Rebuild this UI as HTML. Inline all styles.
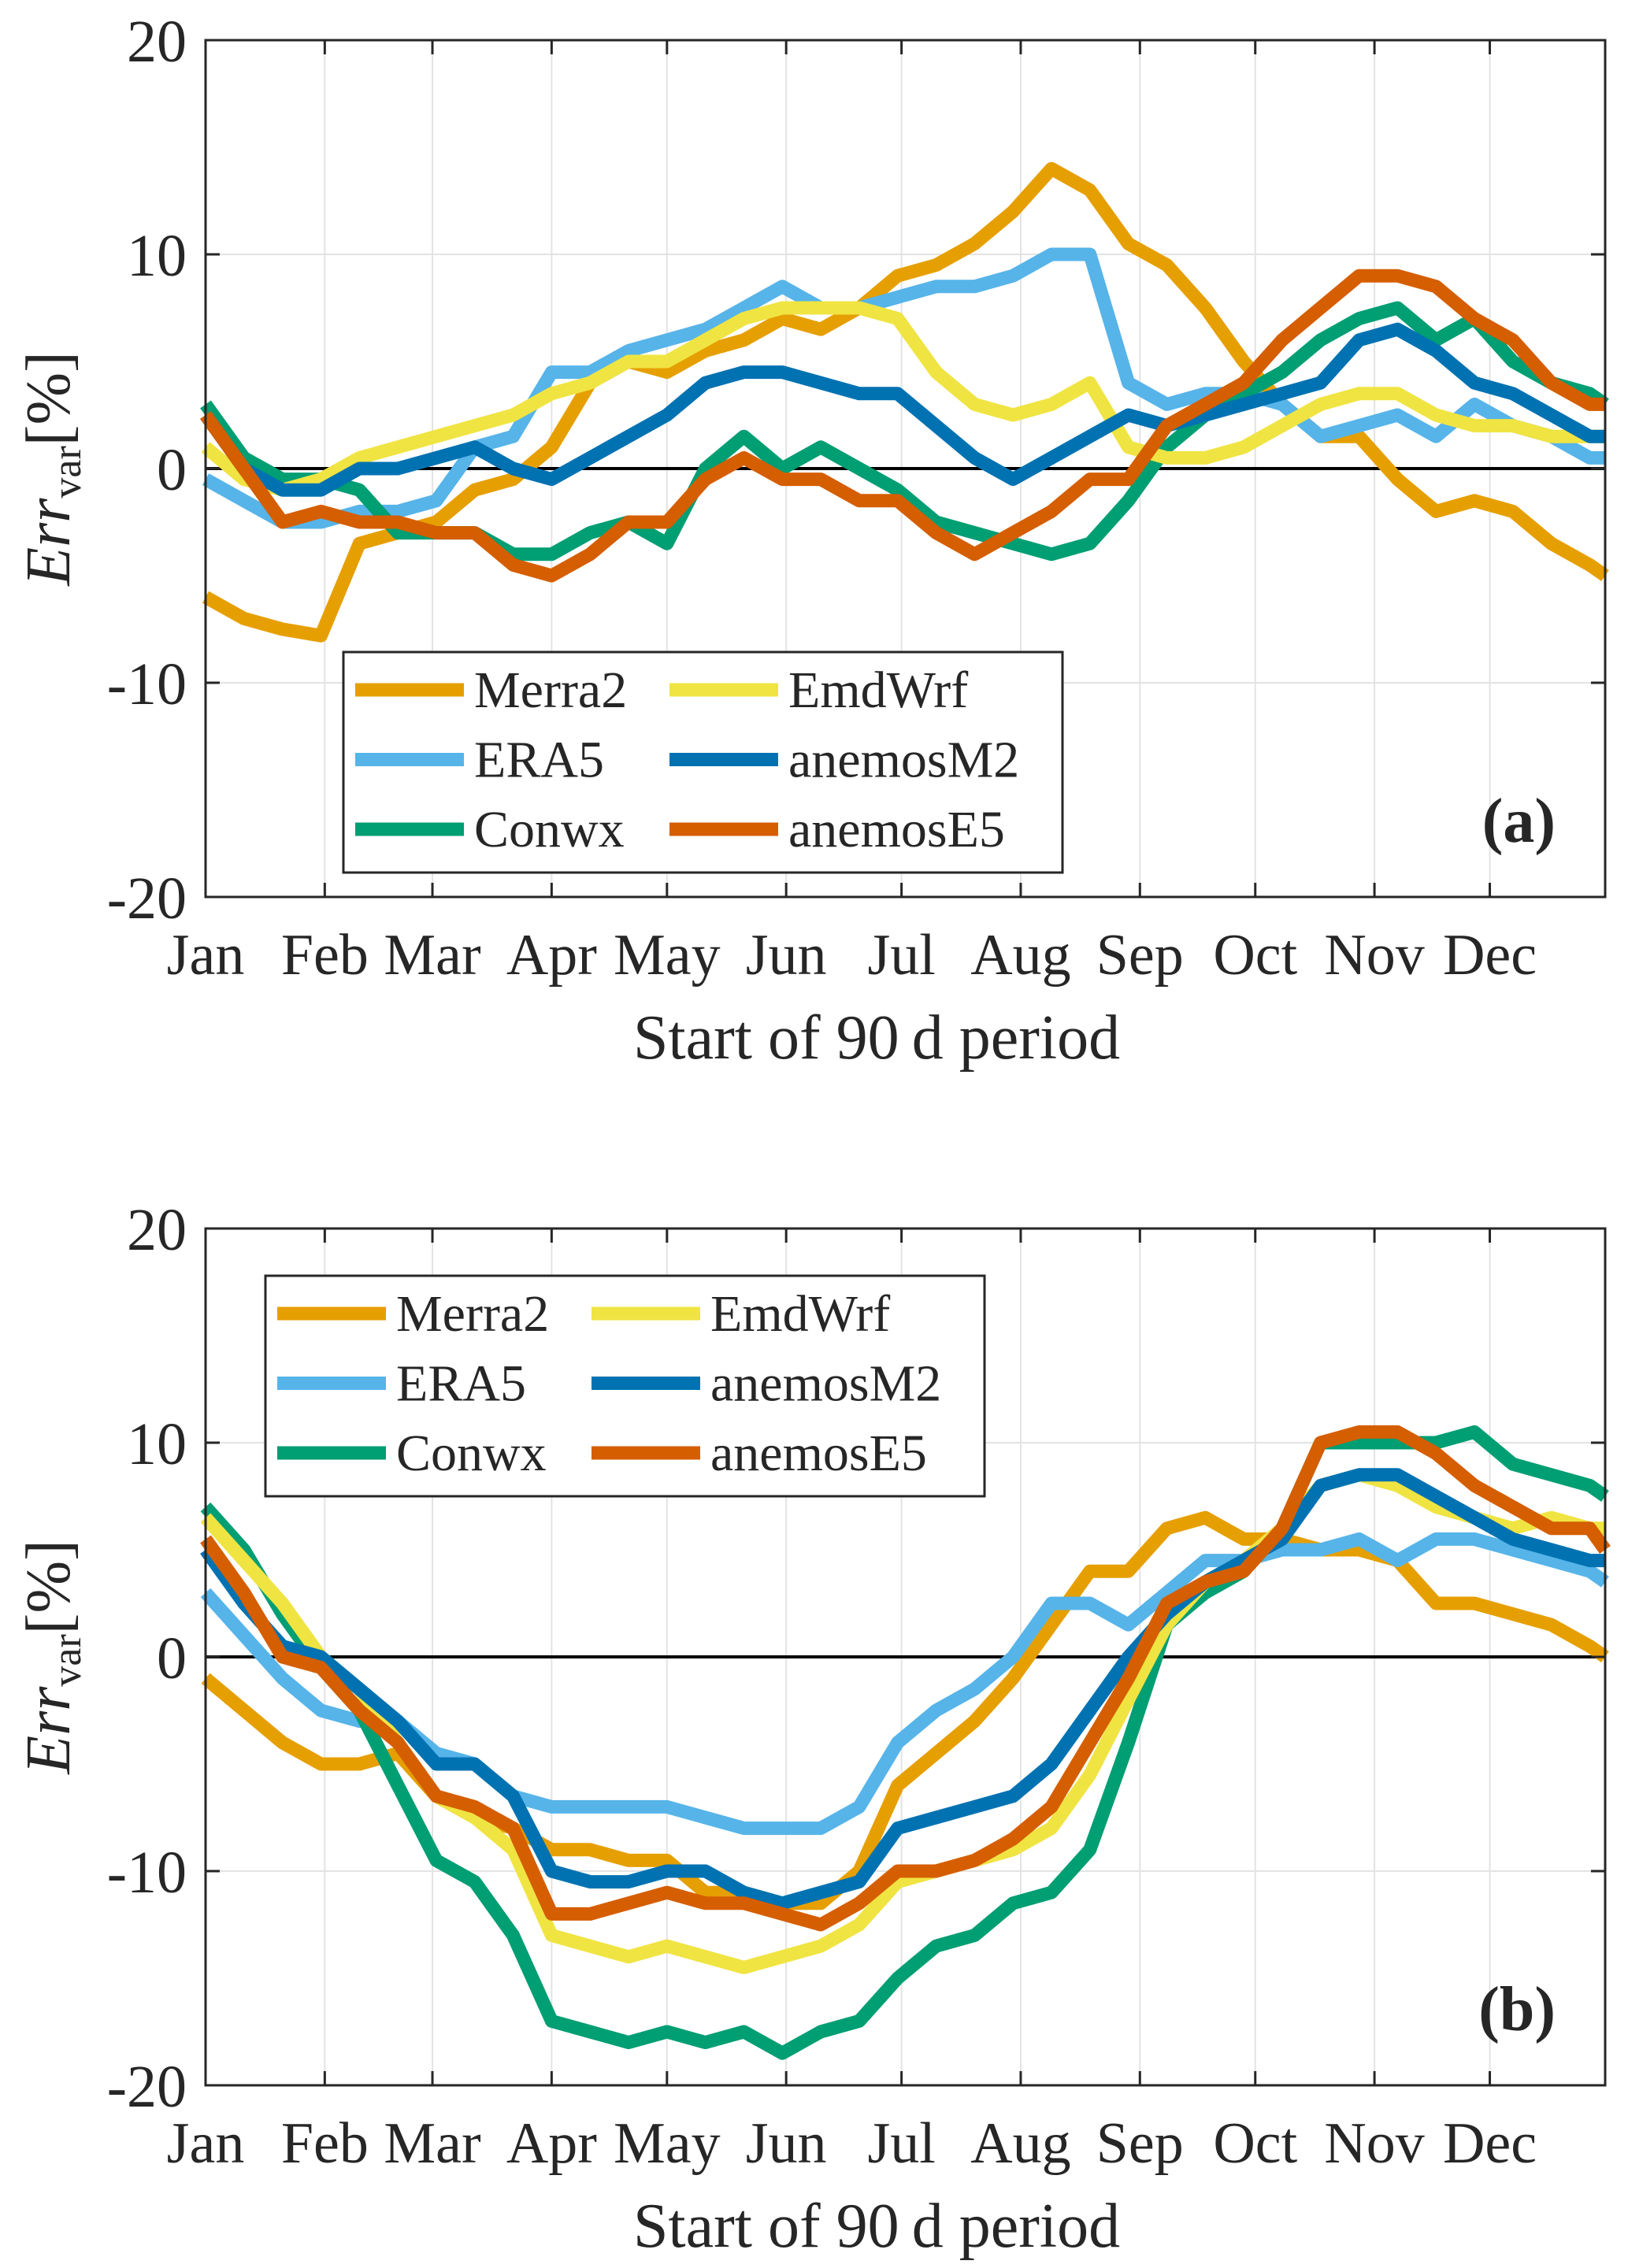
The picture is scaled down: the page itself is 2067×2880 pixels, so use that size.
<!DOCTYPE html>
<html><head><meta charset="utf-8"><style>
html,body{margin:0;padding:0;background:#fff}
svg{display:block}
text{font-family:"Liberation Serif","DejaVu Serif",serif;fill:#262626}
</style></head><body>
<svg id="fig" width="2067" height="2880" viewBox="0 0 2067 2880" xmlns="http://www.w3.org/2000/svg"></svg>
<script>
const days=[0,10,20,30,40,50,60,70,80,90,100,110,120,130,140,150,160,170,180,190,200,210,220,230,240,250,260,270,280,290,300,310,320,330,340,350,360,364];
const monthLabels=["Jan","Feb","Mar","Apr","May","Jun","Jul","Aug","Sep","Oct","Nov","Dec"];
const monthDays=[0,31,59,90,120,151,181,212,243,273,304,334];
const yTicks=[-20,-10,0,10,20];
const seriesNames=["Merra2","ERA5","Conwx","EmdWrf","anemosM2","anemosE5"];
const seriesColors=["#E69F00","#56B4E9","#009E73","#F0E442","#0072B2","#D55E00"];
const aMerra2=[-6,-7,-7.5,-7.8,-3.5,-3,-2.5,-1,-0.5,1,4,5,4.5,5.5,6,7,6.5,7.5,9,9.5,10.5,12,14,13,10.5,9.5,7.5,5,3,1.5,1.5,-0.5,-2,-1.5,-2,-3.5,-4.5,-5];
const aERA5=[-0.5,-1.5,-2.5,-2.5,-2,-2,-1.5,1,1.5,4.5,4.5,5.5,6,6.5,7.5,8.5,7.5,7.5,8,8.5,8.5,9,10,10,4,3,3.5,3.5,3,1.5,2,2.5,1.5,3,2,1.5,0.5,0.5];
const aConwx=[3,0.5,-0.5,-0.5,-1,-3,-3,-3,-4,-4,-3,-2.5,-3.5,0,1.5,0,1,0,-1,-2.5,-3,-3.5,-4,-3.5,-1.5,1,2.5,3.5,4.5,6,7,7.5,6,7,5,4,3.5,3];
const aEmdWrf=[1,-0.5,-1,-0.5,0.5,1,1.5,2,2.5,3.5,4,5,5,6,7,7.5,7.5,7.5,7,4.5,3,2.5,3,4,1,0.5,0.5,1,2,3,3.5,3.5,2.5,2,2,1.5,1.5,1.5];
const aM2=[2.5,0,-1,-1,0,0,0.5,1,0,-0.5,0.5,1.5,2.5,4,4.5,4.5,4,3.5,3.5,2,0.5,-0.5,0.5,1.5,2.5,2,2.5,3,3.5,4,6,6.5,5.5,4,3.5,2.5,1.5,1.5];
const aE5=[2.5,0,-2.5,-2,-2.5,-2.5,-3,-3,-4.5,-5,-4,-2.5,-2.5,-0.5,0.5,-0.5,-0.5,-1.5,-1.5,-3,-4,-3,-2,-0.5,-0.5,2,3,4,6,7.5,9,9,8.5,7,6,4,3,3];
const bMerra2=[-1,-2.5,-4,-5,-5,-4.5,-6.5,-7.5,-8,-9,-9,-9.5,-9.5,-11,-11,-11.5,-11.5,-10,-6,-4.5,-3,-1,1.5,4,4,6,6.5,5.5,5.5,5,5,4.5,2.5,2.5,2,1.5,0.5,0];
const bERA5=[3,1,-1,-2.5,-3,-3,-4.5,-5,-6.5,-7,-7,-7,-7,-7.5,-8,-8,-8,-7,-4,-2.5,-1.5,0,2.5,2.5,1.5,3,4.5,4.5,5,5,5.5,4.5,5.5,5.5,5,4.5,4,3.5];
const bConwx=[7,5,2,-0.5,-2.5,-6,-9.5,-10.5,-13,-17,-17.5,-18,-17.5,-18,-17.5,-18.5,-17.5,-17,-15,-13.5,-13,-11.5,-11,-9,-4,1.5,3,4,6,10,10,10,10,10.5,9,8.5,8,7.5];
const bEmdWrf=[6.5,4.5,2.5,0,-1.5,-4,-6.5,-7.5,-9,-13,-13.5,-14,-13.5,-14,-14.5,-14,-13.5,-12.5,-10.5,-10,-9.5,-9,-8,-5.5,-2,1.5,3.5,4.5,6,8,8.5,8,7,6.5,6,6.5,6,6];
const bM2=[5,2.5,0.5,0,-1.5,-3,-5,-5,-6.5,-10,-10.5,-10.5,-10,-10,-11,-11.5,-11,-10.5,-8,-7.5,-7,-6.5,-5,-2.5,0,2,3.5,4.5,5.5,8,8.5,8.5,7.5,6.5,5.5,5,4.5,4.5];
const bE5=[5.5,3,0,-0.5,-2.5,-4,-6.5,-7,-8,-12,-12,-11.5,-11,-11.5,-11.5,-12,-12.5,-11.5,-10,-10,-9.5,-8.5,-7,-4,-1,2.5,3.5,4,6,10,10.5,10.5,9.5,8,7,6,6,5];

const NS="http://www.w3.org/2000/svg";
const svg=document.getElementById('fig');
function mk(tag,attrs,parent,txt){const e=document.createElementNS(NS,tag);for(const k in attrs)e.setAttribute(k,attrs[k]);if(txt!==undefined)e.textContent=txt;(parent||svg).appendChild(e);return e;}
const X0=261,X1=2038;
function xs(d){return X0+(X1-X0)*d/364;}

function panel(top,data,tag,legX,legY,pname){
  const bot=top+1088;
  const ys=v=>bot-(v+20)/40*(bot-top);
  const g=mk('g',{});
  
  
  monthDays.forEach((d,i)=>{if(i>0){const l=mk('line',{x1:xs(d),x2:xs(d),y1:top,y2:bot,stroke:'#e3e3e3','stroke-width':2},g);}});
  yTicks.forEach(v=>{const l=mk('line',{x1:X0,x2:X1,y1:ys(v),y2:ys(v),stroke:'#e3e3e3','stroke-width':2},g);});
  const z=mk('line',{x1:X0,x2:X1,y1:ys(0),y2:ys(0),stroke:'#000','stroke-width':4},g);
  
  data.forEach((arr,si)=>{
    const pts=arr.map((v,i)=>xs(days[i]).toFixed(1)+','+ys(v).toFixed(1)).join(' ');
    const p=mk('polyline',{points:pts,fill:'none',stroke:seriesColors[si],'stroke-width':17,'stroke-linejoin':'round','stroke-linecap':'butt'},g);
    
    
  });
  const b=mk('rect',{x:X0,y:top,width:X1-X0,height:bot-top,fill:'none',stroke:'#262626','stroke-width':3},g);
  
  monthDays.forEach((d,i)=>{
    mk('line',{x1:xs(d),x2:xs(d),y1:bot,y2:bot-18,stroke:'#262626','stroke-width':3},g);
    mk('line',{x1:xs(d),x2:xs(d),y1:top,y2:top+18,stroke:'#262626','stroke-width':3},g);
    const t=mk('text',{x:xs(d),y:bot+98,'font-size':74,'text-anchor':'middle'},g,monthLabels[i]);
    
  });
  yTicks.forEach(v=>{
    mk('line',{x1:X0,x2:X0+18,y1:ys(v),y2:ys(v),stroke:'#262626','stroke-width':3},g);
    mk('line',{x1:X1,x2:X1-18,y1:ys(v),y2:ys(v),stroke:'#262626','stroke-width':3},g);
    const t=mk('text',{x:237,y:ys(v)+27,'font-size':76,'text-anchor':'end'},g,String(v));
    
  });
  const xl=mk('text',{x:1113,y:bot+205,'font-size':80,'text-anchor':'middle'},g,'Start of 90\u2009d period');
  
  const cy=(top+bot)/2;
  const yl=mk('text',{x:0,y:0,'font-size':80,'text-anchor':'middle',transform:`translate(88,${cy}) rotate(-90)`},g);
  
  mk('tspan',{'font-style':'italic'},yl,'Err');
  mk('tspan',{'font-size':52,dy:14},yl,'var');
  mk('tspan',{dy:-14},yl,'[%]');
  const pl=mk('text',{x:1975,y:bot-70,'font-size':80,'font-weight':'bold','text-anchor':'end',fill:'#000'},g,tag);
  
  const lg=mk('g',{},g);
  
  mk('rect',{x:legX,y:legY,width:913,height:280,fill:'#fff',stroke:'#262626','stroke-width':3},lg);
  seriesNames.forEach((n,i)=>{
    const col=Math.floor(i/3),row=i%3;
    const lx=legX+15+col*399, ry=legY+48+row*88.5;
    const e=mk('g',{},lg);
    
    mk('line',{x1:lx,x2:lx+138,y1:ry,y2:ry,stroke:seriesColors[i],'stroke-width':17},e);
    mk('text',{x:lx+151,y:ry+22,'font-size':66},e,n);
  });
}
panel(51,[aMerra2,aERA5,aConwx,aEmdWrf,aM2,aE5],'(a)',436,828,'panel-a');
panel(1560,[bMerra2,bERA5,bConwx,bEmdWrf,bM2,bE5],'(b)',337,1620,'panel-b');
</script>
</body></html>
